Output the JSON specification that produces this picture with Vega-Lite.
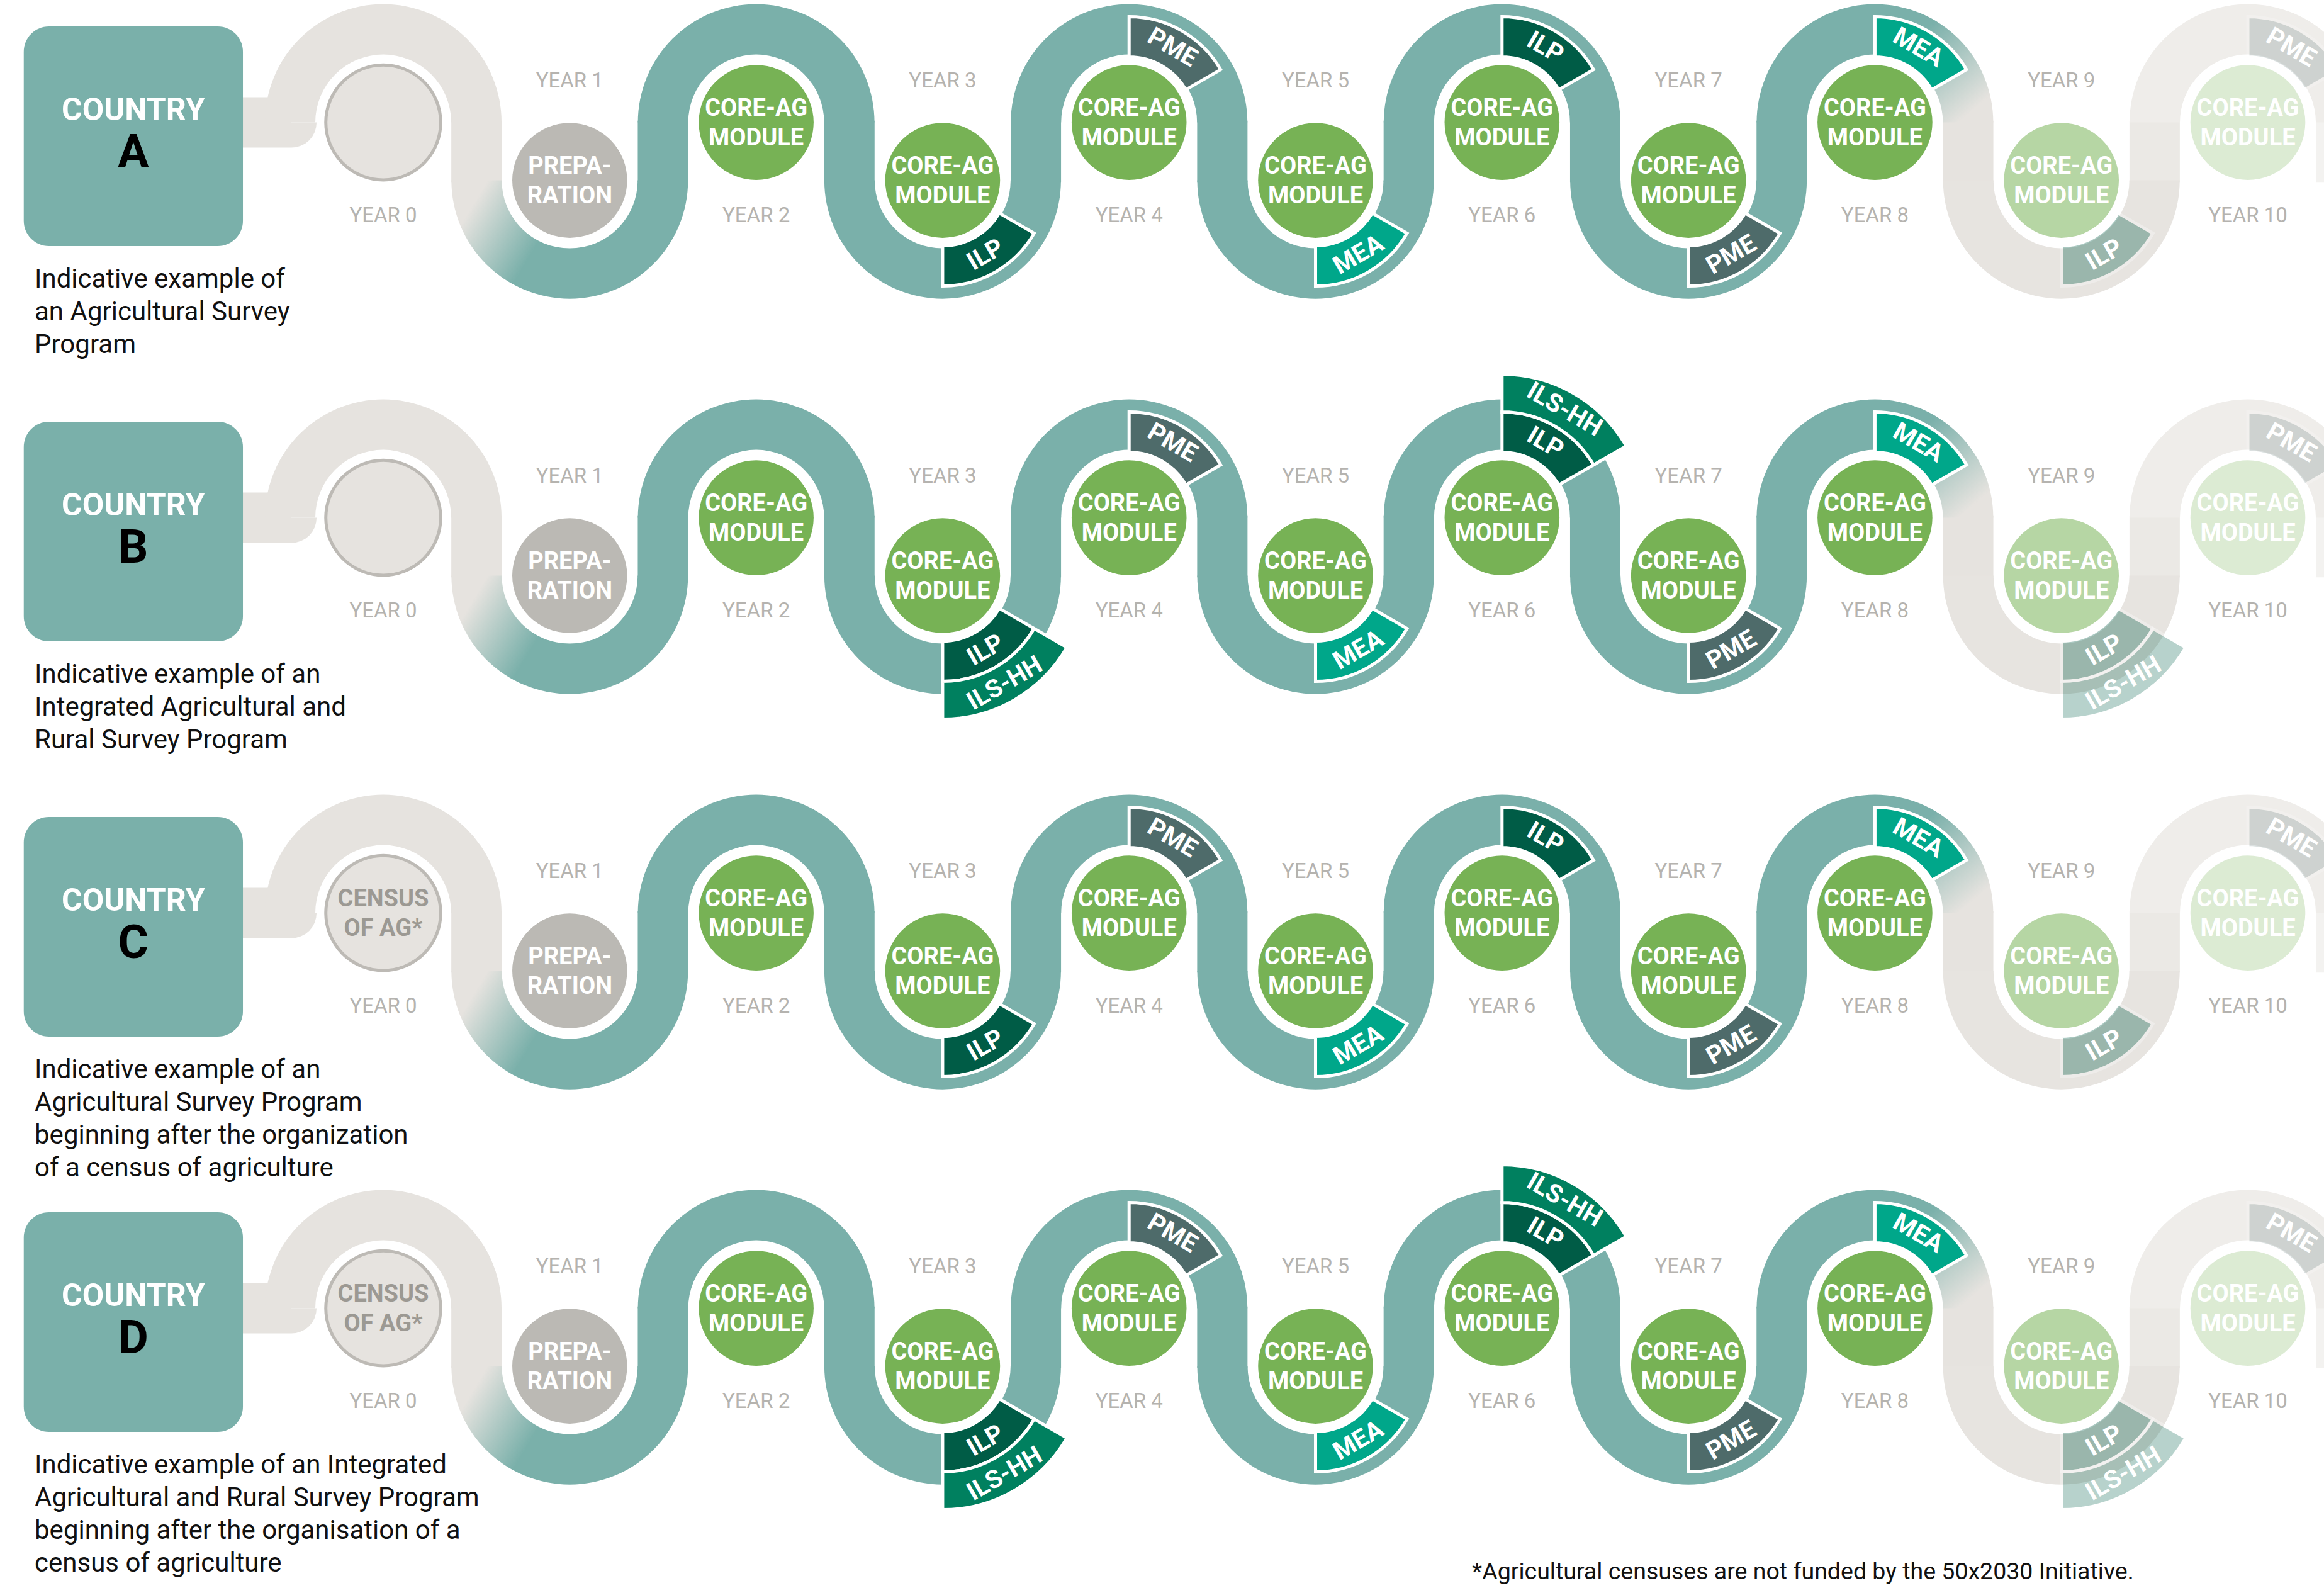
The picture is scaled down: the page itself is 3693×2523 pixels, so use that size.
{
"$schema": "https://vega.github.io/schema/vega-lite/v6.json",
"padding": 0,
"background": "white",
"config": {"view": {"stroke": null}, "font": "Roboto"},
"data": {"values": [
{"country":"A","kind":"country","letter":"A","desc":["Indicative example of","an Agricultural Survey","Program"]},
{"country":"B","kind":"country","letter":"B","desc":["Indicative example of an","Integrated Agricultural and","Rural Survey Program"]},
{"country":"C","kind":"country","letter":"C","desc":["Indicative example of an","Agricultural Survey Program","beginning after the organization","of a census of agriculture"]},
{"country":"D","kind":"country","letter":"D","desc":["Indicative example of an Integrated","Agricultural and Rural Survey Program","beginning after the organisation of a","census of agriculture"]},
{"country":"D","kind":"note","note":"*Agricultural censuses are not funded by the 50x2030 Initiative."},

{"country":"A","kind":"yr","year":0,"track":0,"mod":"blank","yl":"YEAR 0"},
{"country":"A","kind":"yr","year":1,"track":1,"mod":"prep","label":["PREPA-","RATION"],"yl":"YEAR 1"},
{"country":"A","kind":"yr","year":2,"track":0,"mod":"core","label":["CORE-AG","MODULE"],"yl":"YEAR 2"},
{"country":"A","kind":"yr","year":3,"track":1,"mod":"core","label":["CORE-AG","MODULE"],"yl":"YEAR 3"},
{"country":"A","kind":"yr","year":4,"track":0,"mod":"core","label":["CORE-AG","MODULE"],"yl":"YEAR 4"},
{"country":"A","kind":"yr","year":5,"track":1,"mod":"core","label":["CORE-AG","MODULE"],"yl":"YEAR 5"},
{"country":"A","kind":"yr","year":6,"track":0,"mod":"core","label":["CORE-AG","MODULE"],"yl":"YEAR 6"},
{"country":"A","kind":"yr","year":7,"track":1,"mod":"core","label":["CORE-AG","MODULE"],"yl":"YEAR 7"},
{"country":"A","kind":"yr","year":8,"track":0,"mod":"core","label":["CORE-AG","MODULE"],"yl":"YEAR 8"},
{"country":"A","kind":"yr","year":9,"track":1,"mod":"core","label":["CORE-AG","MODULE"],"yl":"YEAR 9"},
{"country":"A","kind":"yr","year":10,"track":0,"mod":"core","label":["CORE-AG","MODULE"],"yl":"YEAR 10"},

{"country":"B","kind":"yr","year":0,"track":0,"mod":"blank","yl":"YEAR 0"},
{"country":"B","kind":"yr","year":1,"track":1,"mod":"prep","label":["PREPA-","RATION"],"yl":"YEAR 1"},
{"country":"B","kind":"yr","year":2,"track":0,"mod":"core","label":["CORE-AG","MODULE"],"yl":"YEAR 2"},
{"country":"B","kind":"yr","year":3,"track":1,"mod":"core","label":["CORE-AG","MODULE"],"yl":"YEAR 3"},
{"country":"B","kind":"yr","year":4,"track":0,"mod":"core","label":["CORE-AG","MODULE"],"yl":"YEAR 4"},
{"country":"B","kind":"yr","year":5,"track":1,"mod":"core","label":["CORE-AG","MODULE"],"yl":"YEAR 5"},
{"country":"B","kind":"yr","year":6,"track":0,"mod":"core","label":["CORE-AG","MODULE"],"yl":"YEAR 6"},
{"country":"B","kind":"yr","year":7,"track":1,"mod":"core","label":["CORE-AG","MODULE"],"yl":"YEAR 7"},
{"country":"B","kind":"yr","year":8,"track":0,"mod":"core","label":["CORE-AG","MODULE"],"yl":"YEAR 8"},
{"country":"B","kind":"yr","year":9,"track":1,"mod":"core","label":["CORE-AG","MODULE"],"yl":"YEAR 9"},
{"country":"B","kind":"yr","year":10,"track":0,"mod":"core","label":["CORE-AG","MODULE"],"yl":"YEAR 10"},

{"country":"C","kind":"yr","year":0,"track":0,"mod":"census","label":["CENSUS","OF AG*"],"yl":"YEAR 0"},
{"country":"C","kind":"yr","year":1,"track":1,"mod":"prep","label":["PREPA-","RATION"],"yl":"YEAR 1"},
{"country":"C","kind":"yr","year":2,"track":0,"mod":"core","label":["CORE-AG","MODULE"],"yl":"YEAR 2"},
{"country":"C","kind":"yr","year":3,"track":1,"mod":"core","label":["CORE-AG","MODULE"],"yl":"YEAR 3"},
{"country":"C","kind":"yr","year":4,"track":0,"mod":"core","label":["CORE-AG","MODULE"],"yl":"YEAR 4"},
{"country":"C","kind":"yr","year":5,"track":1,"mod":"core","label":["CORE-AG","MODULE"],"yl":"YEAR 5"},
{"country":"C","kind":"yr","year":6,"track":0,"mod":"core","label":["CORE-AG","MODULE"],"yl":"YEAR 6"},
{"country":"C","kind":"yr","year":7,"track":1,"mod":"core","label":["CORE-AG","MODULE"],"yl":"YEAR 7"},
{"country":"C","kind":"yr","year":8,"track":0,"mod":"core","label":["CORE-AG","MODULE"],"yl":"YEAR 8"},
{"country":"C","kind":"yr","year":9,"track":1,"mod":"core","label":["CORE-AG","MODULE"],"yl":"YEAR 9"},
{"country":"C","kind":"yr","year":10,"track":0,"mod":"core","label":["CORE-AG","MODULE"],"yl":"YEAR 10"},

{"country":"D","kind":"yr","year":0,"track":0,"mod":"census","label":["CENSUS","OF AG*"],"yl":"YEAR 0"},
{"country":"D","kind":"yr","year":1,"track":1,"mod":"prep","label":["PREPA-","RATION"],"yl":"YEAR 1"},
{"country":"D","kind":"yr","year":2,"track":0,"mod":"core","label":["CORE-AG","MODULE"],"yl":"YEAR 2"},
{"country":"D","kind":"yr","year":3,"track":1,"mod":"core","label":["CORE-AG","MODULE"],"yl":"YEAR 3"},
{"country":"D","kind":"yr","year":4,"track":0,"mod":"core","label":["CORE-AG","MODULE"],"yl":"YEAR 4"},
{"country":"D","kind":"yr","year":5,"track":1,"mod":"core","label":["CORE-AG","MODULE"],"yl":"YEAR 5"},
{"country":"D","kind":"yr","year":6,"track":0,"mod":"core","label":["CORE-AG","MODULE"],"yl":"YEAR 6"},
{"country":"D","kind":"yr","year":7,"track":1,"mod":"core","label":["CORE-AG","MODULE"],"yl":"YEAR 7"},
{"country":"D","kind":"yr","year":8,"track":0,"mod":"core","label":["CORE-AG","MODULE"],"yl":"YEAR 8"},
{"country":"D","kind":"yr","year":9,"track":1,"mod":"core","label":["CORE-AG","MODULE"],"yl":"YEAR 9"},
{"country":"D","kind":"yr","year":10,"track":0,"mod":"core","label":["CORE-AG","MODULE"],"yl":"YEAR 10"},

{"country":"A","kind":"seg","year":3,"track":1,"ring":"in","name":"ILP"},
{"country":"A","kind":"seg","year":4,"track":0,"ring":"in","name":"PME"},
{"country":"A","kind":"seg","year":5,"track":1,"ring":"in","name":"MEA"},
{"country":"A","kind":"seg","year":6,"track":0,"ring":"in","name":"ILP"},
{"country":"A","kind":"seg","year":7,"track":1,"ring":"in","name":"PME"},
{"country":"A","kind":"seg","year":8,"track":0,"ring":"in","name":"MEA"},
{"country":"A","kind":"seg","year":9,"track":1,"ring":"in","name":"ILP"},
{"country":"A","kind":"seg","year":10,"track":0,"ring":"in","name":"PME"},

{"country":"B","kind":"seg","year":3,"track":1,"ring":"in","name":"ILP"},
{"country":"B","kind":"seg","year":3,"track":1,"ring":"out","name":"ILS-HH"},
{"country":"B","kind":"seg","year":4,"track":0,"ring":"in","name":"PME"},
{"country":"B","kind":"seg","year":5,"track":1,"ring":"in","name":"MEA"},
{"country":"B","kind":"seg","year":6,"track":0,"ring":"in","name":"ILP"},
{"country":"B","kind":"seg","year":6,"track":0,"ring":"out","name":"ILS-HH"},
{"country":"B","kind":"seg","year":7,"track":1,"ring":"in","name":"PME"},
{"country":"B","kind":"seg","year":8,"track":0,"ring":"in","name":"MEA"},
{"country":"B","kind":"seg","year":9,"track":1,"ring":"in","name":"ILP"},
{"country":"B","kind":"seg","year":9,"track":1,"ring":"out","name":"ILS-HH"},
{"country":"B","kind":"seg","year":10,"track":0,"ring":"in","name":"PME"},

{"country":"C","kind":"seg","year":3,"track":1,"ring":"in","name":"ILP"},
{"country":"C","kind":"seg","year":4,"track":0,"ring":"in","name":"PME"},
{"country":"C","kind":"seg","year":5,"track":1,"ring":"in","name":"MEA"},
{"country":"C","kind":"seg","year":6,"track":0,"ring":"in","name":"ILP"},
{"country":"C","kind":"seg","year":7,"track":1,"ring":"in","name":"PME"},
{"country":"C","kind":"seg","year":8,"track":0,"ring":"in","name":"MEA"},
{"country":"C","kind":"seg","year":9,"track":1,"ring":"in","name":"ILP"},
{"country":"C","kind":"seg","year":10,"track":0,"ring":"in","name":"PME"},

{"country":"D","kind":"seg","year":3,"track":1,"ring":"in","name":"ILP"},
{"country":"D","kind":"seg","year":3,"track":1,"ring":"out","name":"ILS-HH"},
{"country":"D","kind":"seg","year":4,"track":0,"ring":"in","name":"PME"},
{"country":"D","kind":"seg","year":5,"track":1,"ring":"in","name":"MEA"},
{"country":"D","kind":"seg","year":6,"track":0,"ring":"in","name":"ILP"},
{"country":"D","kind":"seg","year":6,"track":0,"ring":"out","name":"ILS-HH"},
{"country":"D","kind":"seg","year":7,"track":1,"ring":"in","name":"PME"},
{"country":"D","kind":"seg","year":8,"track":0,"ring":"in","name":"MEA"},
{"country":"D","kind":"seg","year":9,"track":1,"ring":"in","name":"ILP"},
{"country":"D","kind":"seg","year":9,"track":1,"ring":"out","name":"ILS-HH"},
{"country":"D","kind":"seg","year":10,"track":0,"ring":"in","name":"PME"}
]},
"facet": {"row": {"field": "country", "type": "nominal", "header": null}},
"spacing": 0,
"bounds": "flush",
"spec": {
"width": 3693,
"height": 628,
"layer": [
{"transform": [{"filter": "datum.kind=='country'"}],
 "mark": {"type": "rule", "strokeWidth": 80, "stroke": "#e6e3df", "strokeCap": "butt"},
 "encoding": {
   "x": {"datum": -0.7526, "type": "quantitative", "scale": {"domain": [-2.0554, 10.4083], "zero": false, "nice": false}, "axis": null},
   "x2": {"datum": -0.4927},
   "y": {"datum": 0, "type": "quantitative", "scale": {"domain": [-2.1152, 4.7109], "zero": false, "nice": false, "reverse": true}, "axis": null}}},
{"transform": [{"filter": "datum.kind=='country'"}],
 "mark": {"type": "arc", "radius": 40, "radius2": 0, "theta": 1.5708, "theta2": 3.1416, "fill": "#e6e3df"},
 "encoding": {
   "x": {"datum": -0.4927, "type": "quantitative", "scale": {"domain": [-2.0554, 10.4083], "zero": false, "nice": false}, "axis": null},
   "y": {"datum": 0, "type": "quantitative", "scale": {"domain": [-2.1152, 4.7109], "zero": false, "nice": false, "reverse": true}, "axis": null}}},
{"transform": [{"filter": "datum.kind=='yr'"}],
 "mark": {"type": "rule", "strokeWidth": 80, "xOffset": 148.15, "strokeCap": "butt"},
 "encoding": {
   "x": {"field": "year", "type": "quantitative", "scale": {"domain": [-2.0554, 10.4083], "zero": false, "nice": false}, "axis": null},
   "y": {"datum": -0.03, "type": "quantitative", "scale": {"domain": [-2.1152, 4.7109], "zero": false, "nice": false, "reverse": true}, "axis": null},
   "y2": {"datum": 1.03},
   "stroke": {"condition": [{"test": "datum.year==0 || datum.year==8", "value": "#e6e3df"}, {"test": "datum.year==9", "value": "#ebe9e5"}, {"test": "datum.year==10", "value": "#f3f2f0"}], "value": "#7ab0aa"}}},
{"transform": [{"filter": "datum.kind=='yr' && datum.track==0 && datum.year!=8"}],
 "mark": {"type": "arc", "radius": 188, "radius2": 108, "theta": -1.5708, "theta2": 1.5708},
 "encoding": {
   "x": {"field": "year", "type": "quantitative", "scale": {"domain": [-2.0554, 10.4083], "zero": false, "nice": false}, "axis": null},
   "y": {"field": "track", "type": "quantitative", "scale": {"domain": [-2.1152, 4.7109], "zero": false, "nice": false, "reverse": true}, "axis": null},
   "fill": {"condition": [{"test": "datum.year==0", "value": "#e6e3df"}, {"test": "datum.year==10", "value": "#efedea"}], "value": "#7ab0aa"}}},
{"transform": [{"filter": "datum.kind=='yr' && datum.track==1 && datum.year!=1"}],
 "mark": {"type": "arc", "radius": 188, "radius2": 108, "theta": 1.5708, "theta2": 4.7124},
 "encoding": {
   "x": {"field": "year", "type": "quantitative", "scale": {"domain": [-2.0554, 10.4083], "zero": false, "nice": false}, "axis": null},
   "y": {"field": "track", "type": "quantitative", "scale": {"domain": [-2.1152, 4.7109], "zero": false, "nice": false, "reverse": true}, "axis": null},
   "fill": {"condition": [{"test": "datum.year==9", "value": "#e7e4e0"}], "value": "#7ab0aa"}}},
{"transform": [{"filter": "datum.kind=='yr' && datum.year==1"}],
 "mark": {"type": "arc", "radius": 188, "radius2": 108, "theta": 1.5708, "theta2": 4.7124,
   "fill": {"gradient": "linear", "x1": 0, "y1": 0, "x2": 1, "y2": 0.3, "stops": [{"offset": 0, "color": "#e6e3df"}, {"offset": 0.14, "color": "#e6e3df"}, {"offset": 0.48, "color": "#7ab0aa"}, {"offset": 1, "color": "#7ab0aa"}]}},
 "encoding": {
   "x": {"field": "year", "type": "quantitative", "scale": {"domain": [-2.0554, 10.4083], "zero": false, "nice": false}, "axis": null},
   "y": {"field": "track", "type": "quantitative", "scale": {"domain": [-2.1152, 4.7109], "zero": false, "nice": false, "reverse": true}, "axis": null}}},
{"transform": [{"filter": "datum.kind=='yr' && datum.year==8"}],
 "mark": {"type": "arc", "radius": 188, "radius2": 108, "theta": -1.5708, "theta2": 1.5708,
   "fill": {"gradient": "linear", "x1": 0.5, "y1": 0, "x2": 1.5, "y2": 0.6, "stops": [{"offset": 0, "color": "#7ab0aa"}, {"offset": 0.25, "color": "#7ab0aa"}, {"offset": 0.7, "color": "#e6e3df"}, {"offset": 1, "color": "#e6e3df"}]}},
 "encoding": {
   "x": {"field": "year", "type": "quantitative", "scale": {"domain": [-2.0554, 10.4083], "zero": false, "nice": false}, "axis": null},
   "y": {"field": "track", "type": "quantitative", "scale": {"domain": [-2.1152, 4.7109], "zero": false, "nice": false, "reverse": true}, "axis": null}}},
{"transform": [{"filter": "datum.kind=='country'"}],
 "mark": {"type": "rect", "cornerRadius": 40, "fill": "#7ab0aa"},
 "encoding": {
   "x": {"datum": -1.928, "type": "quantitative", "scale": {"domain": [-2.0554, 10.4083], "zero": false, "nice": false}, "axis": null},
   "x2": {"datum": -0.7526},
   "y": {"datum": -1.6576, "type": "quantitative", "scale": {"domain": [-2.1152, 4.7109], "zero": false, "nice": false, "reverse": true}, "axis": null},
   "y2": {"datum": 2.1359}}},
{"transform": [{"filter": "datum.kind=='country'"}],
 "mark": {"type": "text", "fontSize": 50, "fontWeight": "bold", "fill": "white", "align": "center", "baseline": "alphabetic"},
 "encoding": {
   "x": {"datum": -1.3405, "type": "quantitative", "scale": {"domain": [-2.0554, 10.4083], "zero": false, "nice": false}, "axis": null},
   "y": {"datum": -0.043, "type": "quantitative", "scale": {"domain": [-2.1152, 4.7109], "zero": false, "nice": false, "reverse": true}, "axis": null},
   "text": {"value": "COUNTRY"}}},
{"transform": [{"filter": "datum.kind=='country'"}],
 "mark": {"type": "text", "fontSize": 74, "fontWeight": "bold", "fill": "#000000", "align": "center", "baseline": "alphabetic"},
 "encoding": {
   "x": {"datum": -1.3405, "type": "quantitative", "scale": {"domain": [-2.0554, 10.4083], "zero": false, "nice": false}, "axis": null},
   "y": {"datum": 0.78, "type": "quantitative", "scale": {"domain": [-2.1152, 4.7109], "zero": false, "nice": false, "reverse": true}, "axis": null},
   "text": {"field": "letter"}}},
{"transform": [{"filter": "datum.kind=='country'"}],
 "mark": {"type": "text", "fontSize": 42, "fill": "#111111", "align": "left", "baseline": "alphabetic", "lineHeight": 52},
 "encoding": {
   "x": {"datum": -1.8697, "type": "quantitative", "scale": {"domain": [-2.0554, 10.4083], "zero": false, "nice": false}, "axis": null},
   "y": {"datum": 2.85, "type": "quantitative", "scale": {"domain": [-2.1152, 4.7109], "zero": false, "nice": false, "reverse": true}, "axis": null},
   "text": {"field": "desc"}}},
{"transform": [{"filter": "datum.kind=='note'"}],
 "mark": {"type": "text", "fontSize": 37.5, "fill": "#111111", "align": "left", "baseline": "alphabetic"},
 "encoding": {
   "x": {"datum": 5.8387, "type": "quantitative", "scale": {"domain": [-2.0554, 10.4083], "zero": false, "nice": false}, "axis": null},
   "y": {"datum": 4.678, "type": "quantitative", "scale": {"domain": [-2.1152, 4.7109], "zero": false, "nice": false, "reverse": true}, "axis": null},
   "text": {"field": "note"}}},
{"transform": [{"filter": "datum.kind=='seg' && datum.track==0 && datum.ring=='in'"}],
 "mark": {"type": "arc", "radius": 168, "radius2": 104, "theta": 0, "theta2": 1.0472, "stroke": "white", "strokeWidth": 5},
 "encoding": {
   "x": {"field": "year", "type": "quantitative", "scale": {"domain": [-2.0554, 10.4083], "zero": false, "nice": false}, "axis": null},
   "y": {"field": "track", "type": "quantitative", "scale": {"domain": [-2.1152, 4.7109], "zero": false, "nice": false, "reverse": true}, "axis": null},
   "fill": {"condition": [{"test": "datum.name=='ILP'", "value": "#005c46"}, {"test": "datum.name=='PME'", "value": "#4e6b6a"}, {"test": "datum.name=='MEA'", "value": "#00a78a"}], "value": "#00805f"},
   "opacity": {"condition": [{"test": "datum.year==9", "value": 0.33}, {"test": "datum.year==10", "value": 0.2}], "value": 1}}},
{"transform": [{"filter": "datum.kind=='seg' && datum.track==1 && datum.ring=='in'"}],
 "mark": {"type": "arc", "radius": 168, "radius2": 104, "theta": 2.0944, "theta2": 3.1416, "stroke": "white", "strokeWidth": 5},
 "encoding": {
   "x": {"field": "year", "type": "quantitative", "scale": {"domain": [-2.0554, 10.4083], "zero": false, "nice": false}, "axis": null},
   "y": {"field": "track", "type": "quantitative", "scale": {"domain": [-2.1152, 4.7109], "zero": false, "nice": false, "reverse": true}, "axis": null},
   "fill": {"condition": [{"test": "datum.name=='ILP'", "value": "#005c46"}, {"test": "datum.name=='PME'", "value": "#4e6b6a"}, {"test": "datum.name=='MEA'", "value": "#00a78a"}], "value": "#00805f"},
   "opacity": {"condition": [{"test": "datum.year==9", "value": 0.33}, {"test": "datum.year==10", "value": 0.2}], "value": 1}}},
{"transform": [{"filter": "datum.kind=='seg' && datum.track==0 && datum.ring=='out'"}],
 "mark": {"type": "arc", "radius": 228, "radius2": 168, "theta": 0, "theta2": 1.0472, "stroke": "white", "strokeWidth": 5},
 "encoding": {
   "x": {"field": "year", "type": "quantitative", "scale": {"domain": [-2.0554, 10.4083], "zero": false, "nice": false}, "axis": null},
   "y": {"field": "track", "type": "quantitative", "scale": {"domain": [-2.1152, 4.7109], "zero": false, "nice": false, "reverse": true}, "axis": null},
   "fill": {"condition": [{"test": "datum.year>=9", "value": "#156c58"}], "value": "#00805f"},
   "opacity": {"condition": [{"test": "datum.year==9", "value": 0.3}, {"test": "datum.year==10", "value": 0.2}], "value": 1}}},
{"transform": [{"filter": "datum.kind=='seg' && datum.track==1 && datum.ring=='out'"}],
 "mark": {"type": "arc", "radius": 228, "radius2": 168, "theta": 2.0944, "theta2": 3.1416, "stroke": "white", "strokeWidth": 5},
 "encoding": {
   "x": {"field": "year", "type": "quantitative", "scale": {"domain": [-2.0554, 10.4083], "zero": false, "nice": false}, "axis": null},
   "y": {"field": "track", "type": "quantitative", "scale": {"domain": [-2.1152, 4.7109], "zero": false, "nice": false, "reverse": true}, "axis": null},
   "fill": {"condition": [{"test": "datum.year>=9", "value": "#156c58"}], "value": "#00805f"},
   "opacity": {"condition": [{"test": "datum.year==9", "value": 0.3}, {"test": "datum.year==10", "value": 0.2}], "value": 1}}},
{"transform": [{"filter": "datum.kind=='seg' && datum.track==0 && datum.ring=='in'"}],
 "mark": {"type": "text", "radius": 137, "theta": 0.5236, "angle": 30, "fontSize": 40, "fontWeight": "bold", "fill": "white", "align": "center", "baseline": "middle"},
 "encoding": {
   "x": {"field": "year", "type": "quantitative", "scale": {"domain": [-2.0554, 10.4083], "zero": false, "nice": false}, "axis": null},
   "y": {"field": "track", "type": "quantitative", "scale": {"domain": [-2.1152, 4.7109], "zero": false, "nice": false, "reverse": true}, "axis": null},
   "text": {"field": "name"}}},
{"transform": [{"filter": "datum.kind=='seg' && datum.track==1 && datum.ring=='in'"}],
 "mark": {"type": "text", "radius": 137, "theta": 2.618, "angle": -30, "fontSize": 40, "fontWeight": "bold", "fill": "white", "align": "center", "baseline": "middle"},
 "encoding": {
   "x": {"field": "year", "type": "quantitative", "scale": {"domain": [-2.0554, 10.4083], "zero": false, "nice": false}, "axis": null},
   "y": {"field": "track", "type": "quantitative", "scale": {"domain": [-2.1152, 4.7109], "zero": false, "nice": false, "reverse": true}, "axis": null},
   "text": {"field": "name"}}},
{"transform": [{"filter": "datum.kind=='seg' && datum.track==0 && datum.ring=='out'"}],
 "mark": {"type": "text", "radius": 198, "theta": 0.5236, "angle": 30, "fontSize": 40, "fontWeight": "bold", "fill": "white", "align": "center", "baseline": "middle"},
 "encoding": {
   "x": {"field": "year", "type": "quantitative", "scale": {"domain": [-2.0554, 10.4083], "zero": false, "nice": false}, "axis": null},
   "y": {"field": "track", "type": "quantitative", "scale": {"domain": [-2.1152, 4.7109], "zero": false, "nice": false, "reverse": true}, "axis": null},
   "text": {"field": "name"}}},
{"transform": [{"filter": "datum.kind=='seg' && datum.track==1 && datum.ring=='out'"}],
 "mark": {"type": "text", "radius": 198, "theta": 2.618, "angle": -30, "fontSize": 40, "fontWeight": "bold", "fill": "white", "align": "center", "baseline": "middle"},
 "encoding": {
   "x": {"field": "year", "type": "quantitative", "scale": {"domain": [-2.0554, 10.4083], "zero": false, "nice": false}, "axis": null},
   "y": {"field": "track", "type": "quantitative", "scale": {"domain": [-2.1152, 4.7109], "zero": false, "nice": false, "reverse": true}, "axis": null},
   "text": {"field": "name"}}},
{"transform": [{"filter": "datum.kind=='yr'"}],
 "mark": {"type": "circle", "size": 36644, "fill": "white", "opacity": 1},
 "encoding": {
   "x": {"field": "year", "type": "quantitative", "scale": {"domain": [-2.0554, 10.4083], "zero": false, "nice": false}, "axis": null},
   "y": {"field": "track", "type": "quantitative", "scale": {"domain": [-2.1152, 4.7109], "zero": false, "nice": false, "reverse": true}, "axis": null}}},
{"transform": [{"filter": "datum.kind=='yr'"}],
 "mark": {"type": "circle", "size": 33329, "strokeWidth": 5},
 "encoding": {
   "x": {"field": "year", "type": "quantitative", "scale": {"domain": [-2.0554, 10.4083], "zero": false, "nice": false}, "axis": null},
   "y": {"field": "track", "type": "quantitative", "scale": {"domain": [-2.1152, 4.7109], "zero": false, "nice": false, "reverse": true}, "axis": null},
   "fill": {"condition": [{"test": "datum.mod=='core'", "value": "#77b255"}, {"test": "datum.mod=='prep'", "value": "#bbb9b4"}], "value": "#e6e3df"},
   "stroke": {"condition": [{"test": "datum.mod=='blank' || datum.mod=='census'", "value": "#bdbab5"}], "value": "transparent"},
   "opacity": {"condition": [{"test": "datum.year==9", "value": 0.53}, {"test": "datum.year==10", "value": 0.25}], "value": 1}}},
{"transform": [{"filter": "datum.kind=='yr' && datum.label"}],
 "mark": {"type": "text", "fontSize": 38, "fontWeight": "bold", "align": "center", "baseline": "middle", "lineHeight": 47, "dy": -22},
 "encoding": {
   "x": {"field": "year", "type": "quantitative", "scale": {"domain": [-2.0554, 10.4083], "zero": false, "nice": false}, "axis": null},
   "y": {"field": "track", "type": "quantitative", "scale": {"domain": [-2.1152, 4.7109], "zero": false, "nice": false, "reverse": true}, "axis": null},
   "text": {"field": "label"},
   "fill": {"condition": [{"test": "datum.mod=='census'", "value": "#9c9993"}], "value": "white"}}},
{"transform": [{"filter": "datum.kind=='yr' && datum.track==0"}],
 "mark": {"type": "text", "dy": 148, "font": "Liberation Sans Narrow, Roboto", "fontSize": 33, "fill": "#b5b3af", "align": "center", "baseline": "middle"},
 "encoding": {
   "x": {"field": "year", "type": "quantitative", "scale": {"domain": [-2.0554, 10.4083], "zero": false, "nice": false}, "axis": null},
   "y": {"field": "track", "type": "quantitative", "scale": {"domain": [-2.1152, 4.7109], "zero": false, "nice": false, "reverse": true}, "axis": null},
   "text": {"field": "yl"}}},
{"transform": [{"filter": "datum.kind=='yr' && datum.track==1"}],
 "mark": {"type": "text", "dy": -158, "font": "Liberation Sans Narrow, Roboto", "fontSize": 33, "fill": "#b5b3af", "align": "center", "baseline": "middle"},
 "encoding": {
   "x": {"field": "year", "type": "quantitative", "scale": {"domain": [-2.0554, 10.4083], "zero": false, "nice": false}, "axis": null},
   "y": {"field": "track", "type": "quantitative", "scale": {"domain": [-2.1152, 4.7109], "zero": false, "nice": false, "reverse": true}, "axis": null},
   "text": {"field": "yl"}}}
]
}
}
